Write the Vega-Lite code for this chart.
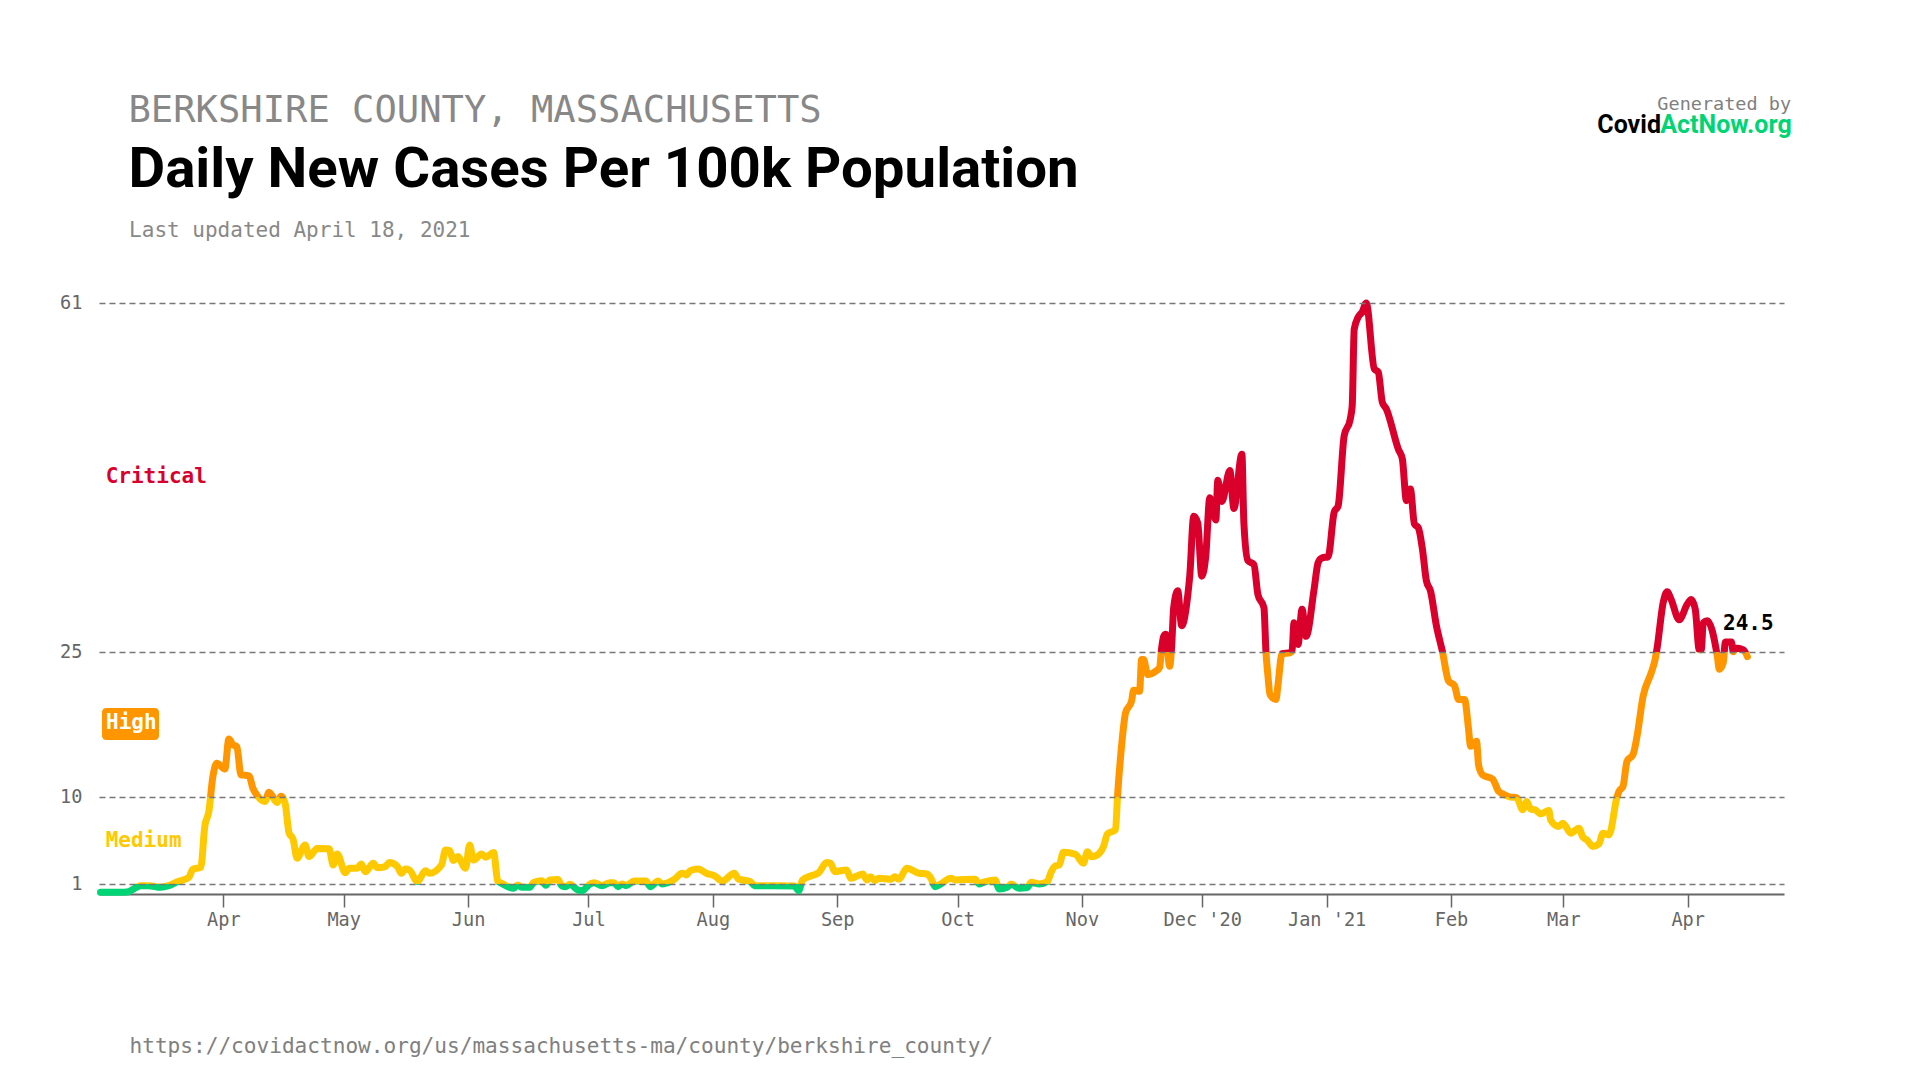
{
  "$schema": "https://vega.github.io/schema/vega-lite/v6.json",
  "description": "Berkshire County daily new cases per 100k",
  "width": 1685,
  "height": 591,
  "autosize": {"type": "none"},
  "padding": {"left": 99, "top": 303, "right": 136, "bottom": 186},
  "background": "white",
  "title": {
    "text": "BERKSHIRE COUNTY, MASSACHUSETTS",
    "subtitle": "Daily New Cases Per 100k Population",
    "anchor": "start",
    "frame": "group",
    "dx": 29.5,
    "offset": -104,
    "font": "DejaVu Sans Mono",
    "fontSize": 37.15,
    "fontWeight": "normal",
    "color": "#888888",
    "subtitleFont": "Roboto",
    "subtitleFontSize": 56.4,
    "subtitleFontWeight": 700,
    "subtitleColor": "#000000",
    "subtitlePadding": 12
  },
  "config": {
    "view": {"stroke": null},
    "text": {"font": "DejaVu Sans Mono", "baseline": "alphabetic", "align": "left"}
  },
  "encoding": {
    "x": {
      "field": "date",
      "type": "temporal",
      "scale": {
        "type": "utc",
        "domain": [
          {"year": 2020, "month": "mar", "date": 1, "utc": true},
          {"year": 2021, "month": "apr", "date": 25, "utc": true}
        ]
      },
      "axis": {
        "values": [
          {"year": 2020, "month": "apr", "date": 1, "utc": true},
          {"year": 2020, "month": "may", "date": 1, "utc": true},
          {"year": 2020, "month": "jun", "date": 1, "utc": true},
          {"year": 2020, "month": "jul", "date": 1, "utc": true},
          {"year": 2020, "month": "aug", "date": 1, "utc": true},
          {"year": 2020, "month": "sep", "date": 1, "utc": true},
          {"year": 2020, "month": "oct", "date": 1, "utc": true},
          {"year": 2020, "month": "nov", "date": 1, "utc": true},
          {"year": 2020, "month": "dec", "date": 1, "utc": true},
          {"year": 2021, "month": "jan", "date": 1, "utc": true},
          {"year": 2021, "month": "feb", "date": 1, "utc": true},
          {"year": 2021, "month": "mar", "date": 1, "utc": true},
          {"year": 2021, "month": "apr", "date": 1, "utc": true}
        ],
        "labelExpr": "utcFormat(datum.value, utcmonth(datum.value) == 11 || utcmonth(datum.value) == 0 ? \"%b '%y\" : \"%b\")",
        "grid": false,
        "domainColor": "#666666",
        "domainWidth": 2,
        "tickColor": "#666666",
        "tickWidth": 1.5,
        "tickSize": 13,
        "labelFont": "DejaVu Sans Mono",
        "labelFontSize": 18.6,
        "labelColor": "#666666",
        "labelBaseline": "alphabetic",
        "labelPadding": 18,
        "title": "https://covidactnow.org/us/massachusetts-ma/county/berkshire_county/",
        "titleFont": "DejaVu Sans Mono",
        "titleFontSize": 21.1,
        "titleFontWeight": "normal",
        "titleColor": "#808080",
        "titleAlign": "left",
        "titleBaseline": "alphabetic",
        "titleX": 30,
        "titleY": 158
      }
    },
    "y": {
      "field": "value",
      "type": "quantitative",
      "scale": {"domain": [0, 61], "nice": false, "zero": true},
      "axis": {
        "values": [1, 10, 25, 61],
        "title": null,
        "domain": false,
        "ticks": false,
        "grid": true,
        "gridColor": "#777777",
        "gridWidth": 1.5,
        "gridDash": [6, 4],
        "zindex": 1,
        "labelFont": "DejaVu Sans Mono",
        "labelFontSize": 18.6,
        "labelColor": "#666666",
        "labelPadding": 17,
        "labelOffset": -0.5
      }
    }
  },
  "layer": [
    {
      "data": {"values": [
        {"date": "2020-03-01", "value": 0.17}, {"date": "2020-03-06", "value": 0.17}, {"date": "2020-03-08", "value": 0.24}, {"date": "2020-03-10", "value": 0.7},
        {"date": "2020-03-11", "value": 0.86}, {"date": "2020-03-13", "value": 0.86}, {"date": "2020-03-16", "value": 0.7}, {"date": "2020-03-18", "value": 0.86},
        {"date": "2020-03-20", "value": 1.24}, {"date": "2020-03-23", "value": 1.7}, {"date": "2020-03-24", "value": 2.55}, {"date": "2020-03-26", "value": 2.76},
        {"date": "2020-03-27", "value": 7.0}, {"date": "2020-03-28", "value": 8.5}, {"date": "2020-03-29", "value": 12.1}, {"date": "2020-03-30", "value": 13.5},
        {"date": "2020-04-01", "value": 12.9}, {"date": "2020-04-02", "value": 16}, {"date": "2020-04-03", "value": 15.4}, {"date": "2020-04-04", "value": 15.2},
        {"date": "2020-04-05", "value": 12.3}, {"date": "2020-04-07", "value": 12.2}, {"date": "2020-04-08", "value": 10.9}, {"date": "2020-04-09", "value": 10.2},
        {"date": "2020-04-11", "value": 9.55}, {"date": "2020-04-12", "value": 10.5}, {"date": "2020-04-14", "value": 9.45}, {"date": "2020-04-15", "value": 10.1},
        {"date": "2020-04-16", "value": 9.4}, {"date": "2020-04-17", "value": 6.3}, {"date": "2020-04-18", "value": 5.65}, {"date": "2020-04-19", "value": 3.7},
        {"date": "2020-04-21", "value": 5.07}, {"date": "2020-04-22", "value": 3.86}, {"date": "2020-04-24", "value": 4.7}, {"date": "2020-04-27", "value": 4.66},
        {"date": "2020-04-28", "value": 3.0}, {"date": "2020-04-29", "value": 4.14}, {"date": "2020-05-01", "value": 2.2}, {"date": "2020-05-02", "value": 2.66},
        {"date": "2020-05-04", "value": 2.66}, {"date": "2020-05-05", "value": 3.1}, {"date": "2020-05-06", "value": 2.3}, {"date": "2020-05-08", "value": 3.17},
        {"date": "2020-05-09", "value": 2.72}, {"date": "2020-05-11", "value": 2.83}, {"date": "2020-05-12", "value": 3.24}, {"date": "2020-05-14", "value": 2.83},
        {"date": "2020-05-15", "value": 2.14}, {"date": "2020-05-16", "value": 2.59}, {"date": "2020-05-17", "value": 2.48}, {"date": "2020-05-19", "value": 1.28},
        {"date": "2020-05-21", "value": 2.41}, {"date": "2020-05-22", "value": 2.14}, {"date": "2020-05-25", "value": 3.0}, {"date": "2020-05-26", "value": 4.55},
        {"date": "2020-05-27", "value": 4.48}, {"date": "2020-05-28", "value": 3.45}, {"date": "2020-05-29", "value": 3.86}, {"date": "2020-05-31", "value": 2.66},
        {"date": "2020-06-01", "value": 5.07}, {"date": "2020-06-02", "value": 3.5}, {"date": "2020-06-04", "value": 4.14}, {"date": "2020-06-05", "value": 3.8},
        {"date": "2020-06-07", "value": 4.28}, {"date": "2020-06-08", "value": 1.34}, {"date": "2020-06-09", "value": 1.1}, {"date": "2020-06-12", "value": 0.59},
        {"date": "2020-06-13", "value": 0.93}, {"date": "2020-06-14", "value": 0.69}, {"date": "2020-06-16", "value": 0.69}, {"date": "2020-06-17", "value": 1.2},
        {"date": "2020-06-19", "value": 1.38}, {"date": "2020-06-20", "value": 0.9}, {"date": "2020-06-21", "value": 1.45}, {"date": "2020-06-23", "value": 1.5},
        {"date": "2020-06-24", "value": 0.83}, {"date": "2020-06-25", "value": 0.76}, {"date": "2020-06-26", "value": 1}, {"date": "2020-06-28", "value": 0.41},
        {"date": "2020-06-29", "value": 0.34}, {"date": "2020-07-01", "value": 1.03}, {"date": "2020-07-02", "value": 1.17}, {"date": "2020-07-04", "value": 0.86},
        {"date": "2020-07-06", "value": 1.17}, {"date": "2020-07-07", "value": 1.17}, {"date": "2020-07-08", "value": 0.76}, {"date": "2020-07-09", "value": 1.03},
        {"date": "2020-07-10", "value": 0.86}, {"date": "2020-07-12", "value": 1.34}, {"date": "2020-07-15", "value": 1.34}, {"date": "2020-07-16", "value": 0.76},
        {"date": "2020-07-18", "value": 1.34}, {"date": "2020-07-19", "value": 1.03}, {"date": "2020-07-21", "value": 1.28}, {"date": "2020-07-22", "value": 1.5},
        {"date": "2020-07-24", "value": 2.14}, {"date": "2020-07-25", "value": 1.97}, {"date": "2020-07-26", "value": 2.41}, {"date": "2020-07-28", "value": 2.59},
        {"date": "2020-07-30", "value": 2.14}, {"date": "2020-08-01", "value": 1.9}, {"date": "2020-08-03", "value": 1.34}, {"date": "2020-08-06", "value": 2.14},
        {"date": "2020-08-07", "value": 1.55}, {"date": "2020-08-10", "value": 1.28}, {"date": "2020-08-11", "value": 0.86}, {"date": "2020-08-21", "value": 0.83},
        {"date": "2020-08-22", "value": 0.34}, {"date": "2020-08-23", "value": 1.45}, {"date": "2020-08-25", "value": 1.86}, {"date": "2020-08-27", "value": 2.2},
        {"date": "2020-08-29", "value": 3.24}, {"date": "2020-08-30", "value": 3.17}, {"date": "2020-08-31", "value": 2.31}, {"date": "2020-09-03", "value": 2.48},
        {"date": "2020-09-04", "value": 1.62}, {"date": "2020-09-07", "value": 2.07}, {"date": "2020-09-08", "value": 1.45}, {"date": "2020-09-09", "value": 1.79},
        {"date": "2020-09-10", "value": 1.38}, {"date": "2020-09-11", "value": 1.62}, {"date": "2020-09-14", "value": 1.52}, {"date": "2020-09-15", "value": 1.79},
        {"date": "2020-09-16", "value": 1.52}, {"date": "2020-09-18", "value": 2.66}, {"date": "2020-09-21", "value": 2.14}, {"date": "2020-09-23", "value": 2.07},
        {"date": "2020-09-24", "value": 1.62}, {"date": "2020-09-25", "value": 0.76}, {"date": "2020-09-26", "value": 0.93}, {"date": "2020-09-29", "value": 1.62},
        {"date": "2020-09-30", "value": 1.45}, {"date": "2020-10-05", "value": 1.52}, {"date": "2020-10-06", "value": 1.03}, {"date": "2020-10-07", "value": 1.2},
        {"date": "2020-10-10", "value": 1.45}, {"date": "2020-10-11", "value": 0.52}, {"date": "2020-10-13", "value": 0.69}, {"date": "2020-10-14", "value": 1.03},
        {"date": "2020-10-16", "value": 0.59}, {"date": "2020-10-18", "value": 0.66}, {"date": "2020-10-19", "value": 1.2}, {"date": "2020-10-21", "value": 1.03},
        {"date": "2020-10-23", "value": 1.28}, {"date": "2020-10-24", "value": 2.31}, {"date": "2020-10-25", "value": 2.9}, {"date": "2020-10-26", "value": 3.0},
        {"date": "2020-10-27", "value": 4.31}, {"date": "2020-10-30", "value": 4.1}, {"date": "2020-11-01", "value": 3.17}, {"date": "2020-11-02", "value": 4.35},
        {"date": "2020-11-03", "value": 3.86}, {"date": "2020-11-04", "value": 3.93}, {"date": "2020-11-06", "value": 4.9}, {"date": "2020-11-07", "value": 6.2},
        {"date": "2020-11-09", "value": 6.62}, {"date": "2020-11-09T12:00:00Z", "value": 10.07}, {"date": "2020-11-10T12:00:00Z", "value": 15.24}, {"date": "2020-11-11T12:00:00Z", "value": 18.7},
        {"date": "2020-11-13", "value": 19.9}, {"date": "2020-11-13T12:00:00Z", "value": 21.03}, {"date": "2020-11-15", "value": 20.93}, {"date": "2020-11-15T12:00:00Z", "value": 24.2},
        {"date": "2020-11-16", "value": 24.2}, {"date": "2020-11-17", "value": 22.66}, {"date": "2020-11-19", "value": 23}, {"date": "2020-11-20", "value": 23.4},
        {"date": "2020-11-20T12:00:00Z", "value": 25.4}, {"date": "2020-11-21", "value": 26.6}, {"date": "2020-11-21T12:00:00Z", "value": 26.8}, {"date": "2020-11-22T12:00:00Z", "value": 23.5},
        {"date": "2020-11-23", "value": 25.6}, {"date": "2020-11-23T12:00:00Z", "value": 29.55}, {"date": "2020-11-24T12:00:00Z", "value": 31.3}, {"date": "2020-11-25T12:00:00Z", "value": 27.7},
        {"date": "2020-11-27", "value": 30.8}, {"date": "2020-11-27T12:00:00Z", "value": 32.8}, {"date": "2020-11-28T12:00:00Z", "value": 39}, {"date": "2020-11-29T12:00:00Z", "value": 38.3},
        {"date": "2020-11-30T12:00:00Z", "value": 32.8}, {"date": "2020-12-01T12:00:00Z", "value": 34.9}, {"date": "2020-12-02T12:00:00Z", "value": 40.9}, {"date": "2020-12-04", "value": 38.6},
        {"date": "2020-12-04T12:00:00Z", "value": 42.7}, {"date": "2020-12-05T12:00:00Z", "value": 40.5}, {"date": "2020-12-07T12:00:00Z", "value": 43.7}, {"date": "2020-12-08T12:00:00Z", "value": 39.8},
        {"date": "2020-12-10T12:00:00Z", "value": 45.4}, {"date": "2020-12-11", "value": 38.3}, {"date": "2020-12-12", "value": 34.4}, {"date": "2020-12-13T12:00:00Z", "value": 34},
        {"date": "2020-12-14T12:00:00Z", "value": 30.9}, {"date": "2020-12-16", "value": 29.55}, {"date": "2020-12-16T12:00:00Z", "value": 25}, {"date": "2020-12-17", "value": 22.5},
        {"date": "2020-12-17T12:00:00Z", "value": 20.6}, {"date": "2020-12-19", "value": 20.07}, {"date": "2020-12-19T12:00:00Z", "value": 21.6}, {"date": "2020-12-20T12:00:00Z", "value": 24.8},
        {"date": "2020-12-22T12:00:00Z", "value": 24.9}, {"date": "2020-12-23", "value": 25.07}, {"date": "2020-12-23T12:00:00Z", "value": 28}, {"date": "2020-12-24T12:00:00Z", "value": 25.76},
        {"date": "2020-12-25T12:00:00Z", "value": 29.4}, {"date": "2020-12-26T12:00:00Z", "value": 26.6}, {"date": "2020-12-28T12:00:00Z", "value": 31.45}, {"date": "2020-12-29T12:00:00Z", "value": 34.2},
        {"date": "2020-12-30T12:00:00Z", "value": 34.7}, {"date": "2021-01-01", "value": 34.8}, {"date": "2021-01-02T12:00:00Z", "value": 39.4}, {"date": "2021-01-03T12:00:00Z", "value": 40.07},
        {"date": "2021-01-05", "value": 47.3}, {"date": "2021-01-06T12:00:00Z", "value": 49}, {"date": "2021-01-07", "value": 50.4}, {"date": "2021-01-07T12:00:00Z", "value": 58.3},
        {"date": "2021-01-08T12:00:00Z", "value": 59.55}, {"date": "2021-01-09T12:00:00Z", "value": 60.07}, {"date": "2021-01-10T12:00:00Z", "value": 61}, {"date": "2021-01-12T12:00:00Z", "value": 54.2},
        {"date": "2021-01-13T12:00:00Z", "value": 53.86}, {"date": "2021-01-14T12:00:00Z", "value": 50.76}, {"date": "2021-01-15T12:00:00Z", "value": 50.07}, {"date": "2021-01-18T12:00:00Z", "value": 45.9},
        {"date": "2021-01-19T12:00:00Z", "value": 44.9}, {"date": "2021-01-20T12:00:00Z", "value": 40.6}, {"date": "2021-01-21T12:00:00Z", "value": 41.8}, {"date": "2021-01-22T12:00:00Z", "value": 38.2},
        {"date": "2021-01-23T12:00:00Z", "value": 37.8}, {"date": "2021-01-24T12:00:00Z", "value": 35.6}, {"date": "2021-01-25T12:00:00Z", "value": 32.3}, {"date": "2021-01-26T12:00:00Z", "value": 31.3},
        {"date": "2021-01-28", "value": 27.66}, {"date": "2021-01-29T12:00:00Z", "value": 25}, {"date": "2021-01-31", "value": 22}, {"date": "2021-02-01T12:00:00Z", "value": 21.5},
        {"date": "2021-02-02T12:00:00Z", "value": 20.07}, {"date": "2021-02-04", "value": 20.07}, {"date": "2021-02-05", "value": 17}, {"date": "2021-02-05T12:00:00Z", "value": 15.24},
        {"date": "2021-02-07", "value": 15.76}, {"date": "2021-02-07T12:00:00Z", "value": 13.3}, {"date": "2021-02-08T12:00:00Z", "value": 12.3}, {"date": "2021-02-11", "value": 11.86},
        {"date": "2021-02-12T12:00:00Z", "value": 10.6}, {"date": "2021-02-14", "value": 10.24}, {"date": "2021-02-15T12:00:00Z", "value": 10}, {"date": "2021-02-17", "value": 9.95},
        {"date": "2021-02-18T12:00:00Z", "value": 8.7}, {"date": "2021-02-19T12:00:00Z", "value": 9.55}, {"date": "2021-02-20T12:00:00Z", "value": 8.76}, {"date": "2021-02-21T12:00:00Z", "value": 8.7},
        {"date": "2021-02-23", "value": 8.28}, {"date": "2021-02-25", "value": 8.62}, {"date": "2021-02-25T12:00:00Z", "value": 7.6}, {"date": "2021-02-27T12:00:00Z", "value": 6.97},
        {"date": "2021-02-28T12:00:00Z", "value": 7.31}, {"date": "2021-03-02T12:00:00Z", "value": 6.28}, {"date": "2021-03-04T12:00:00Z", "value": 6.79}, {"date": "2021-03-05T12:00:00Z", "value": 5.86},
        {"date": "2021-03-06T12:00:00Z", "value": 5.59}, {"date": "2021-03-08", "value": 4.9}, {"date": "2021-03-09T12:00:00Z", "value": 5.17}, {"date": "2021-03-10T12:00:00Z", "value": 6.28},
        {"date": "2021-03-12", "value": 6.1}, {"date": "2021-03-14", "value": 10}, {"date": "2021-03-14T12:00:00Z", "value": 10.6}, {"date": "2021-03-15T12:00:00Z", "value": 11.1},
        {"date": "2021-03-16T12:00:00Z", "value": 13.7}, {"date": "2021-03-18", "value": 14.4}, {"date": "2021-03-19", "value": 16.3}, {"date": "2021-03-20T12:00:00Z", "value": 20.4},
        {"date": "2021-03-22T12:00:00Z", "value": 22.8}, {"date": "2021-03-23T12:00:00Z", "value": 24.2}, {"date": "2021-03-24", "value": 25.4}, {"date": "2021-03-25T12:00:00Z", "value": 30.07},
        {"date": "2021-03-26T12:00:00Z", "value": 31.2}, {"date": "2021-03-27T12:00:00Z", "value": 30.4}, {"date": "2021-03-29T12:00:00Z", "value": 28.3}, {"date": "2021-03-31T12:00:00Z", "value": 29.9},
        {"date": "2021-04-01T12:00:00Z", "value": 30.4}, {"date": "2021-04-02T12:00:00Z", "value": 29.4}, {"date": "2021-04-03T12:00:00Z", "value": 25.2}, {"date": "2021-04-04", "value": 25.2},
        {"date": "2021-04-04T12:00:00Z", "value": 28}, {"date": "2021-04-05T12:00:00Z", "value": 28.2}, {"date": "2021-04-08", "value": 24.55}, {"date": "2021-04-08T12:00:00Z", "value": 23.2},
        {"date": "2021-04-09T12:00:00Z", "value": 23.9}, {"date": "2021-04-10", "value": 26}, {"date": "2021-04-11T12:00:00Z", "value": 26}, {"date": "2021-04-12", "value": 25},
        {"date": "2021-04-12T12:00:00Z", "value": 25.4}, {"date": "2021-04-14T12:00:00Z", "value": 25.2}, {"date": "2021-04-15T12:00:00Z", "value": 24.5}
      ]},
      "mark": {
        "type": "line",
        "interpolate": "monotone",
        "strokeWidth": 7,
        "strokeCap": "round",
        "strokeJoin": "round",
        "xOffset": 1.5,
        "stroke": {
          "gradient": "linear",
          "x1": 0, "y1": 0, "x2": 0, "y2": 1,
          "stops": [
            {"offset": 0, "color": "#D9002C"},
            {"offset": 0.5918, "color": "#D9002C"},
            {"offset": 0.5918, "color": "#FF9600"},
            {"offset": 0.8384, "color": "#FF9600"},
            {"offset": 0.8384, "color": "#FFC900"},
            {"offset": 0.9864, "color": "#FFC900"},
            {"offset": 0.9864, "color": "#00D474"},
            {"offset": 1, "color": "#00D474"}
          ]
        }
      }
    },
    {
      "data": {"values": [{"date": "2020-03-01T18:00:00Z", "end": "2020-03-15T23:00:00Z", "value": 19.2, "low": 15.9}]},
      "mark": {"type": "rect", "color": "#FF9600", "cornerRadius": 4},
      "encoding": {
        "x2": {"field": "end"},
        "y2": {"field": "low"}
      }
    },
    {
      "data": {"values": [{"date": "2020-03-02T18:00:00Z", "value": 17.0, "label": "High"}]},
      "mark": {"type": "text", "fontSize": 21, "fontWeight": "bold", "color": "#FFFFFF"},
      "encoding": {"text": {"field": "label"}}
    },
    {
      "data": {"values": [{"date": "2020-03-02T16:00:00Z", "value": 42.45, "label": "Critical"}]},
      "mark": {"type": "text", "fontSize": 21, "fontWeight": "bold", "color": "#D9002C"},
      "encoding": {"text": {"field": "label"}}
    },
    {
      "data": {"values": [{"date": "2020-03-02T16:00:00Z", "value": 4.9, "label": "Medium"}]},
      "mark": {"type": "text", "fontSize": 21, "fontWeight": "bold", "color": "#FFC900"},
      "encoding": {"text": {"field": "label"}}
    },
    {
      "data": {"values": [{"date": "2021-04-09T19:00:00Z", "value": 27.3, "label": "24.5"}]},
      "mark": {"type": "text", "fontSize": 21, "fontWeight": "bold", "color": "#000000"},
      "encoding": {"text": {"field": "label"}}
    },
    {
      "data": {"values": [{"date": "2020-03-08T12:00:00Z", "value": 67.85, "label": "Last updated April 18, 2021"}]},
      "mark": {"type": "text", "fontSize": 21, "color": "#888888"},
      "encoding": {"text": {"field": "label"}}
    },
    {
      "data": {"values": [{"date": "2021-04-26T18:00:00Z", "value": 80.9, "label": "Generated by"}]},
      "mark": {"type": "text", "fontSize": 18.5, "color": "#808080", "align": "right"},
      "encoding": {"text": {"field": "label"}}
    },
    {
      "data": {"values": [{"date": "2021-04-26T22:00:00Z", "value": 78.55, "label": "ActNow.org"}]},
      "mark": {"type": "text", "font": "Roboto", "fontSize": 25, "fontWeight": "bold", "color": "#00D474", "align": "right"},
      "encoding": {"text": {"field": "label"}}
    },
    {
      "data": {"values": [{"date": "2021-03-25T08:00:00Z", "value": 78.55, "label": "Covid"}]},
      "mark": {"type": "text", "font": "Roboto", "fontSize": 25, "fontWeight": "bold", "color": "#000000", "align": "right"},
      "encoding": {"text": {"field": "label"}}
    }
  ]
}
